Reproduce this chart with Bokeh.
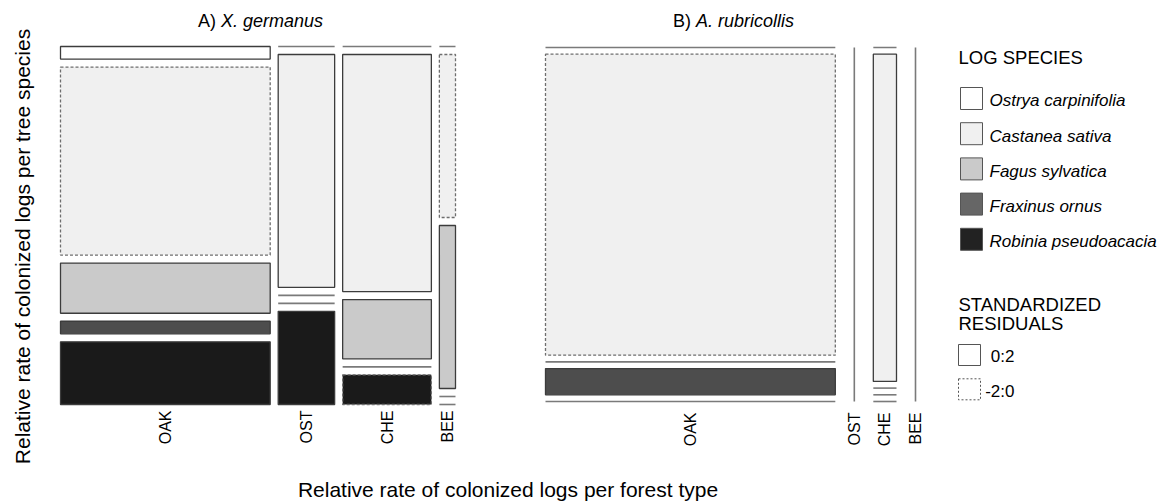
import math
import numpy as np
from bokeh.plotting import figure
from bokeh.models import Range1d
from bokeh.core.properties import value
from bokeh.embed import file_html
from bokeh.resources import INLINE

FONT = "Liberation Sans"

forest_types = ["OAK", "OST", "CHE", "BEE"]
log_species = ["Ostrya carpinifolia", "Castanea sativa", "Fagus sylvatica",
               "Fraxinus ornus", "Robinia pseudoacacia"]

# Colonized logs per forest type, counted by log species (order of log_species)
germanus_oak = [2, 30, 8, 2, 10]
germanus_ost = [0, 10, 0, 0, 4]
germanus_che = [0, 16, 4, 0, 2]
germanus_bee = [0, 2, 2, 0, 0]

rubricollis_oak = [0, 23, 0, 2, 0]
rubricollis_ost = [0, 0, 0, 0, 0]
rubricollis_che = [0, 2, 0, 0, 0]
rubricollis_bee = [0, 0, 0, 0, 0]

residual_classes = ["0:2", "-2:0"]

# styling
TILE_FILLS = ["#ffffff", "#f0f0f0", "#cacaca", "#4d4d4d", "#1a1a1a"]
KEY_FILLS = ["#ffffff", "#f0f0f0", "#cacaca", "#666666", "#222222"]
W, H = 1167, 502
TITLE_BASE = 26    # baseline of the panel titles
LIFT = 0.33        # text anchor sits this many em above the wanted baseline


def anchor(baseline, size):
    return baseline - LIFT * size


def mosaic_cells(table, gap_x, gap_y):
    """Split the unit square into columns (forest types) and stacked tiles
    (log species); tiles are flagged by the sign of the Pearson residual."""
    obs = np.asarray(table, dtype=float)
    col_tot = obs.sum(axis=1)
    sp_tot = obs.sum(axis=0)
    grand = obs.sum()
    expected = np.outer(col_tot, sp_tot) / grand
    n_col, n_sp = obs.shape
    widths = col_tot / grand * (1.0 - gap_x * (n_col - 1))
    span = 1.0 - gap_y * (n_sp - 1)
    keys = ("left", "right", "top", "bottom", "fill")
    positive = {k: [] for k in keys}
    negative = {k: [] for k in keys}
    flat = dict(x0=[], x1=[], y0=[], y1=[])
    centers = []
    x = 0.0
    for i in range(n_col):
        w = widths[i]
        centers.append(x + w / 2)
        if col_tot[i] == 0:
            flat["x0"].append(x); flat["x1"].append(x)
            flat["y0"].append(0.0); flat["y1"].append(1.0)
        else:
            top = 1.0
            for j in range(n_sp):
                h = obs[i, j] / col_tot[i] * span
                if obs[i, j] == 0:
                    flat["x0"].append(x); flat["x1"].append(x + w)
                    flat["y0"].append(top); flat["y1"].append(top)
                else:
                    resid = (obs[i, j] - expected[i, j]) / math.sqrt(expected[i, j])
                    tgt = positive if resid >= 0 else negative
                    tgt["left"].append(x); tgt["right"].append(x + w)
                    tgt["top"].append(top); tgt["bottom"].append(top - h)
                    tgt["fill"].append(TILE_FILLS[j])
                top -= h + gap_y
        x += w + gap_x
    return positive, negative, flat, centers


# page canvas: default ranges are pixel coordinates (y downwards)
p = figure(width=W, height=H, output_backend="svg", toolbar_location=None,
           title=None, x_range=Range1d(0, W), y_range=Range1d(H, 0),
           x_axis_location=None, y_axis_location=None, min_border=0)
p.outline_line_color = None
p.grid.visible = False
p.background_fill_color = "white"
p.border_fill_color = "white"


def mosaic_panel(name, table, left, top, content_w, content_h, gap_x_px,
                 gap_y_px, label_gap, title_plain, title_italic):
    # each panel gets its own scales: the unit square of the mosaic is placed
    # with its top-left corner at (left, top) on the page
    xr, yr = name + "_x", name + "_y"
    p.extra_x_ranges[xr] = Range1d(-left / content_w, (W - left) / content_w)
    p.extra_y_ranges[yr] = Range1d(-(H - top - content_h) / content_h,
                                   1 + top / content_h)
    rng = dict(x_range_name=xr, y_range_name=yr)

    pos, neg, flat, centers = mosaic_cells(table, gap_x_px / content_w,
                                           gap_y_px / content_h)
    p.quad(left=pos["left"], right=pos["right"], top=pos["top"],
           bottom=pos["bottom"], fill_color=pos["fill"],
           line_color="#3c3c3c", line_width=1.3, **rng)
    if neg["left"]:
        p.quad(left=neg["left"], right=neg["right"], top=neg["top"],
               bottom=neg["bottom"], fill_color=neg["fill"],
               line_color="#6e6e6e", line_width=1.3, line_dash="3 2", **rng)
    p.segment(x0=flat["x0"], y0=flat["y0"], x1=flat["x1"], y1=flat["y1"],
              line_color="#7a7a7a", line_width=1.6, **rng)

    # category labels under the columns, reading upwards
    p.text(x=centers, y=[-label_gap / content_h] * len(centers),
           text=forest_types, angle=math.pi / 2, text_align="right",
           text_baseline="middle", text_font=value(FONT),
           text_font_size="16px", text_color="black", **rng)

    ty = 1 + (top - anchor(TITLE_BASE, 18)) / content_h
    p.text(x=[0.4], y=[ty], x_offset=-2.5, text=[title_plain],
           text_align="right", text_baseline="alphabetic",
           text_font=value(FONT), text_font_size="18px", text_color="black",
           **rng)
    p.text(x=[0.4], y=[ty], x_offset=2.5, text=[title_italic],
           text_align="left", text_baseline="alphabetic",
           text_font=value(FONT), text_font_style="italic",
           text_font_size="18px", text_color="black", **rng)


mosaic_panel("a", [germanus_oak, germanus_ost, germanus_che, germanus_bee],
             left=60, top=46, content_w=395, content_h=358,
             gap_x_px=8, gap_y_px=8, label_gap=6,
             title_plain="A)", title_italic="X. germanus")
mosaic_panel("b", [rubricollis_oak, rubricollis_ost, rubricollis_che,
                   rubricollis_bee],
             left=545, top=47, content_w=370, content_h=354,
             gap_x_px=19, gap_y_px=6.7, label_gap=11,
             title_plain="B)", title_italic="A. rubricollis")

txt = dict(text_font=value(FONT), text_color="black", text_baseline="alphabetic")

# axis titles (the vertical one reads upwards, so its baseline is on the right)
p.text(x=[28.5 - LIFT * 21], y=[246],
       text=["Relative rate of colonized logs per tree species"],
       angle=math.pi / 2, text_align="center", text_font_size="21px", **txt)
p.text(x=[507.5], y=[anchor(496, 21)],
       text=["Relative rate of colonized logs per forest type"],
       text_align="center", text_font_size="21px", **txt)

# key for log species and residual classes
KX = 940
p.text(x=[KX + 18], y=[anchor(63, 18.5)], text=["LOG SPECIES"],
       text_font_size="18.5px", **txt)
item_top = [87 + 35.2 * k for k in range(len(log_species))]
p.quad(left=[KX + 20] * len(log_species), right=[KX + 42] * len(log_species),
       top=item_top, bottom=[t + 22 for t in item_top], fill_color=KEY_FILLS,
       line_color="#555555", line_width=1)
p.text(x=[KX + 49] * len(log_species), y=[anchor(t + 19, 17) for t in item_top],
       text=log_species, text_font_size="17px", text_font_style="italic", **txt)

p.text(x=[KX + 18, KX + 18], y=[anchor(310, 18.5), anchor(329, 18.5)],
       text=["STANDARDIZED", "RESIDUALS"], text_font_size="18.5px", **txt)
res_top = [344, 378.3]
p.quad(left=[KX + 18], right=[KX + 40], top=[res_top[0]], bottom=[res_top[0] + 21],
       fill_color="white", line_color="#555555", line_width=1)
p.quad(left=[KX + 18], right=[KX + 40], top=[res_top[1]], bottom=[res_top[1] + 21],
       fill_color="white", line_color="#555555", line_width=1, line_dash="2 2")
p.text(x=[KX + 74, KX + 74], y=[anchor(t + 18, 17) for t in res_top],
       text=residual_classes, text_font_size="17px", text_align="right", **txt)

open("out.html", "w").write(file_html(p, INLINE))
